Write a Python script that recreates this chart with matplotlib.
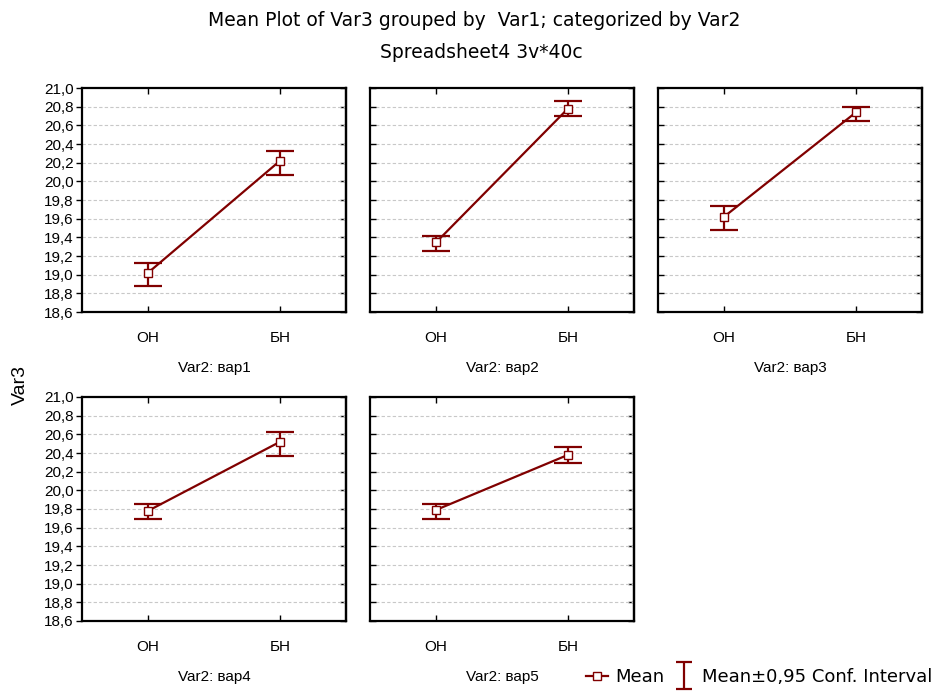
import numpy as np
import matplotlib.pyplot as plt
from matplotlib.container import ErrorbarContainer
from matplotlib.legend_handler import HandlerErrorbar

plt.rcParams['font.family'] = ['Liberation Sans', 'DejaVu Sans']

groups = ["ОН", "БН"]
panels = ["Var2: вар1", "Var2: вар2", "Var2: вар3", "Var2: вар4", "Var2: вар5"]
means = [[19.02, 20.22], [19.345, 20.78], [19.62, 20.74], [19.78, 20.52], [19.79, 20.38]]
upper = [[19.13, 20.33], [19.41, 20.86], [19.74, 20.80], [19.85, 20.63], [19.85, 20.46]]
lower = [[18.875, 20.07], [19.25, 20.70], [19.48, 20.65], [19.69, 20.37], [19.69, 20.29]]
yticks = [18.6, 18.8, 19.0, 19.2, 19.4, 19.6, 19.8, 20.0, 20.2, 20.4, 20.6, 20.8, 21.0]

W, H = 942, 693
red = "#800000"

fig = plt.figure(figsize=(W / 100, H / 100), dpi=100)

lefts = [82, 370, 658]
tops = [88, 397]
pw, ph = 264, 224

mean_handle = None
ci_handle = None
for i, name in enumerate(panels):
    r, c = divmod(i, 3)
    ax = fig.add_axes([lefts[c] / W, 1 - (tops[r] + ph) / H, pw / W, ph / H])
    x = list(range(len(groups)))
    m = means[i]
    yerr = [[m[k] - lower[i][k] for k in x], [upper[i][k] - m[k] for k in x]]
    ax.errorbar(x, m, yerr=yerr, fmt='none', ecolor=red, elinewidth=1.6,
                capsize=10, capthick=1.6, zorder=3)
    ln, = ax.plot(x, m, color=red, lw=1.6, marker='s', ms=6, mfc='white',
                  mec=red, mew=1.0, zorder=4)
    if mean_handle is None:
        mean_handle = ln
        # narrow errorbar glyph for the legend only
        ci_handle = ax.errorbar([np.nan], [np.nan], yerr=[0], fmt='none', ecolor=red,
                                elinewidth=1.6, capsize=6, capthick=1.6)

    ax.set_xlim(-0.5, 1.5)
    ax.set_ylim(18.6, 21.0)
    ax.set_xticks(x)
    ax.set_xticklabels(groups, fontsize=11)
    ax.set_yticks(yticks)
    for y in yticks[1:-1]:
        ax.axhline(y, color='#c8c8c8', lw=0.8, ls=(0, (3, 2)), zorder=1)
    ax.tick_params(axis='x', direction='in', top=True, length=4, width=1, pad=14)
    if c == 0:
        ax.set_yticklabels([f"{v:.1f}".replace('.', ',') for v in yticks], fontsize=11)
        ax.tick_params(axis='y', direction='out', length=4, width=1, pad=2)
    else:
        ax.set_yticklabels([])
        ax.tick_params(axis='y', direction='in', length=4, width=1)
    right = ax.secondary_yaxis('right')
    right.set_yticks(yticks)
    right.tick_params(direction='in', length=4, width=1, labelright=False)
    right.spines['right'].set_linewidth(1.6)
    for s in ax.spines.values():
        s.set_linewidth(1.6)
    fig.text((lefts[c] + pw / 2) / W, 1 - (tops[r] + ph + 56) / H, name,
             fontsize=11, ha='center', va='center')

fig.text(474 / W, 1 - 20 / H, "Mean Plot of Var3 grouped by  Var1; categorized by Var2",
         fontsize=13.5, ha='center', va='center', family='DejaVu Sans')
fig.text(481 / W, 1 - 52 / H, "Spreadsheet4 3v*40c",
         fontsize=13.5, ha='center', va='center', family='DejaVu Sans')
fig.text(20 / W, 1 - 385 / H, "Var3", fontsize=14, rotation=90, ha='center', va='center')

fig.legend([mean_handle, ci_handle], ["Mean", "Mean±0,95 Conf. Interval"],
           loc='center right', bbox_to_anchor=(940 / W, 1 - 677 / H), ncol=2,
           frameon=False, prop={'family': 'DejaVu Sans', 'size': 13},
           handlelength=1.2, handletextpad=0.4, columnspacing=0.5, borderaxespad=0,
           handler_map={ErrorbarContainer: HandlerErrorbar(yerr_size=0.75)})

fig.savefig("out.png", dpi=100)
